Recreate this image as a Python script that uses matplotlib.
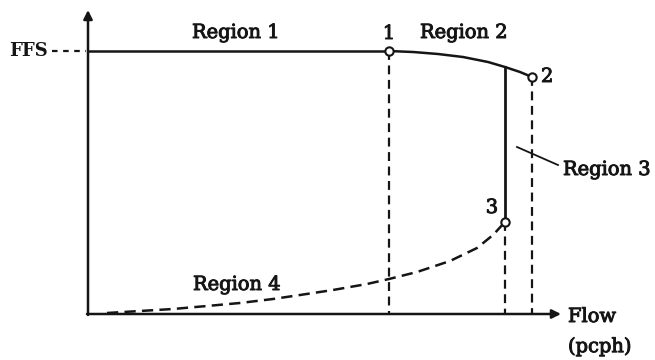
import matplotlib
matplotlib.use('Agg')
import matplotlib.pyplot as plt
import matplotlib.patheffects as pe

# values (flow, speed), origin at the axes corner
region1_flow = [0, 301]
region1_speed = [263, 263]
region2_flow = [301, 325, 350, 375, 400, 417, 432, 444]
region2_speed = [263, 262, 260, 257, 252, 247, 242, 237]
region3_flow = [417, 417]
region3_speed = [247, 92]
region4_flow = [19, 52, 85, 119, 152, 185, 212, 245, 279, 301, 329, 362, 389, 405, 417]
region4_speed = [1, 3, 5, 8, 11, 15, 19, 24, 30, 35, 42, 53, 66, 79, 92]

point_labels = ['1', '2', '3']
point_flow = [301, 444, 417]
point_speed = [263, 237, 92]

x_end = 473
y_end = 304

plt.rcParams['font.family'] = ['DejaVu Serif']
ink = '#151515'
heavy = [pe.withStroke(linewidth=0.7, foreground=ink)]

fig = plt.figure(figsize=(6.55, 3.6), dpi=100)
ax = fig.add_axes([0, 0, 1, 1])
ax.set_xlim(-88, 567)
ax.set_ylim(-46, 314)
ax.axis('off')

# axes with arrows
ax.annotate('', xy=(0, y_end), xytext=(0, -1),
            arrowprops=dict(arrowstyle='-|>', lw=1.8, color=ink, mutation_scale=13, shrinkA=0, shrinkB=0))
ax.annotate('', xy=(x_end, 0), xytext=(-1, 0),
            arrowprops=dict(arrowstyle='-|>', lw=1.8, color=ink, mutation_scale=13, shrinkA=0, shrinkB=0))

# curves
ax.plot(region1_flow, region1_speed, color=ink, lw=1.8, solid_capstyle='butt')
ax.plot(region2_flow, region2_speed, color=ink, lw=1.8)
ax.plot(region3_flow, region3_speed, color=ink, lw=2.0)
ax.plot(region4_flow, region4_speed, color=ink, lw=1.8, dashes=(4.5, 2.5))

# dashed drop lines
for fx, sy in zip(point_flow, point_speed):
    ax.plot([fx, fx], [sy, 0], color=ink, lw=1.6, dashes=(4, 2.5))

ax.plot(point_flow, point_speed, 'o', ms=6, mfc='white', mec=ink, mew=1.5, zorder=5)

# FFS label
ax.plot([-36, -2], [263, 263], color=ink, lw=1.6, dashes=(2.5, 2.5))
ax.text(-40, 263, 'FFS', fontsize=13, fontweight='bold', ha='right', va='center', color=ink)

fs = 14
ax.text(148, 281, 'Region 1', fontsize=fs, ha='center', va='center', color=ink, path_effects=heavy)
ax.text(376, 281, 'Region 2', fontsize=fs, ha='center', va='center', color=ink, path_effects=heavy)
ax.text(475, 144, 'Region 3', fontsize=fs, ha='left', va='center', color=ink, path_effects=heavy)
ax.text(149, 29, 'Region 4', fontsize=fs, ha='center', va='center', color=ink, path_effects=heavy)
ax.plot([429, 470], [167, 149], color=ink, lw=1.3)

ax.text(301, 280, point_labels[0], fontsize=fs, ha='center', va='center', color=ink, path_effects=heavy)
ax.text(453, 237, point_labels[1], fontsize=fs, ha='left', va='center', color=ink, path_effects=heavy)
ax.text(404, 106, point_labels[2], fontsize=fs, ha='center', va='center', color=ink, path_effects=heavy)

ax.text(480, -3, 'Flow', fontsize=fs, ha='left', va='center', color=ink, path_effects=heavy)
ax.text(480, -33, '(pcph)', fontsize=fs, ha='left', va='center', color=ink, path_effects=heavy)

fig.savefig('out.png', dpi=100)
